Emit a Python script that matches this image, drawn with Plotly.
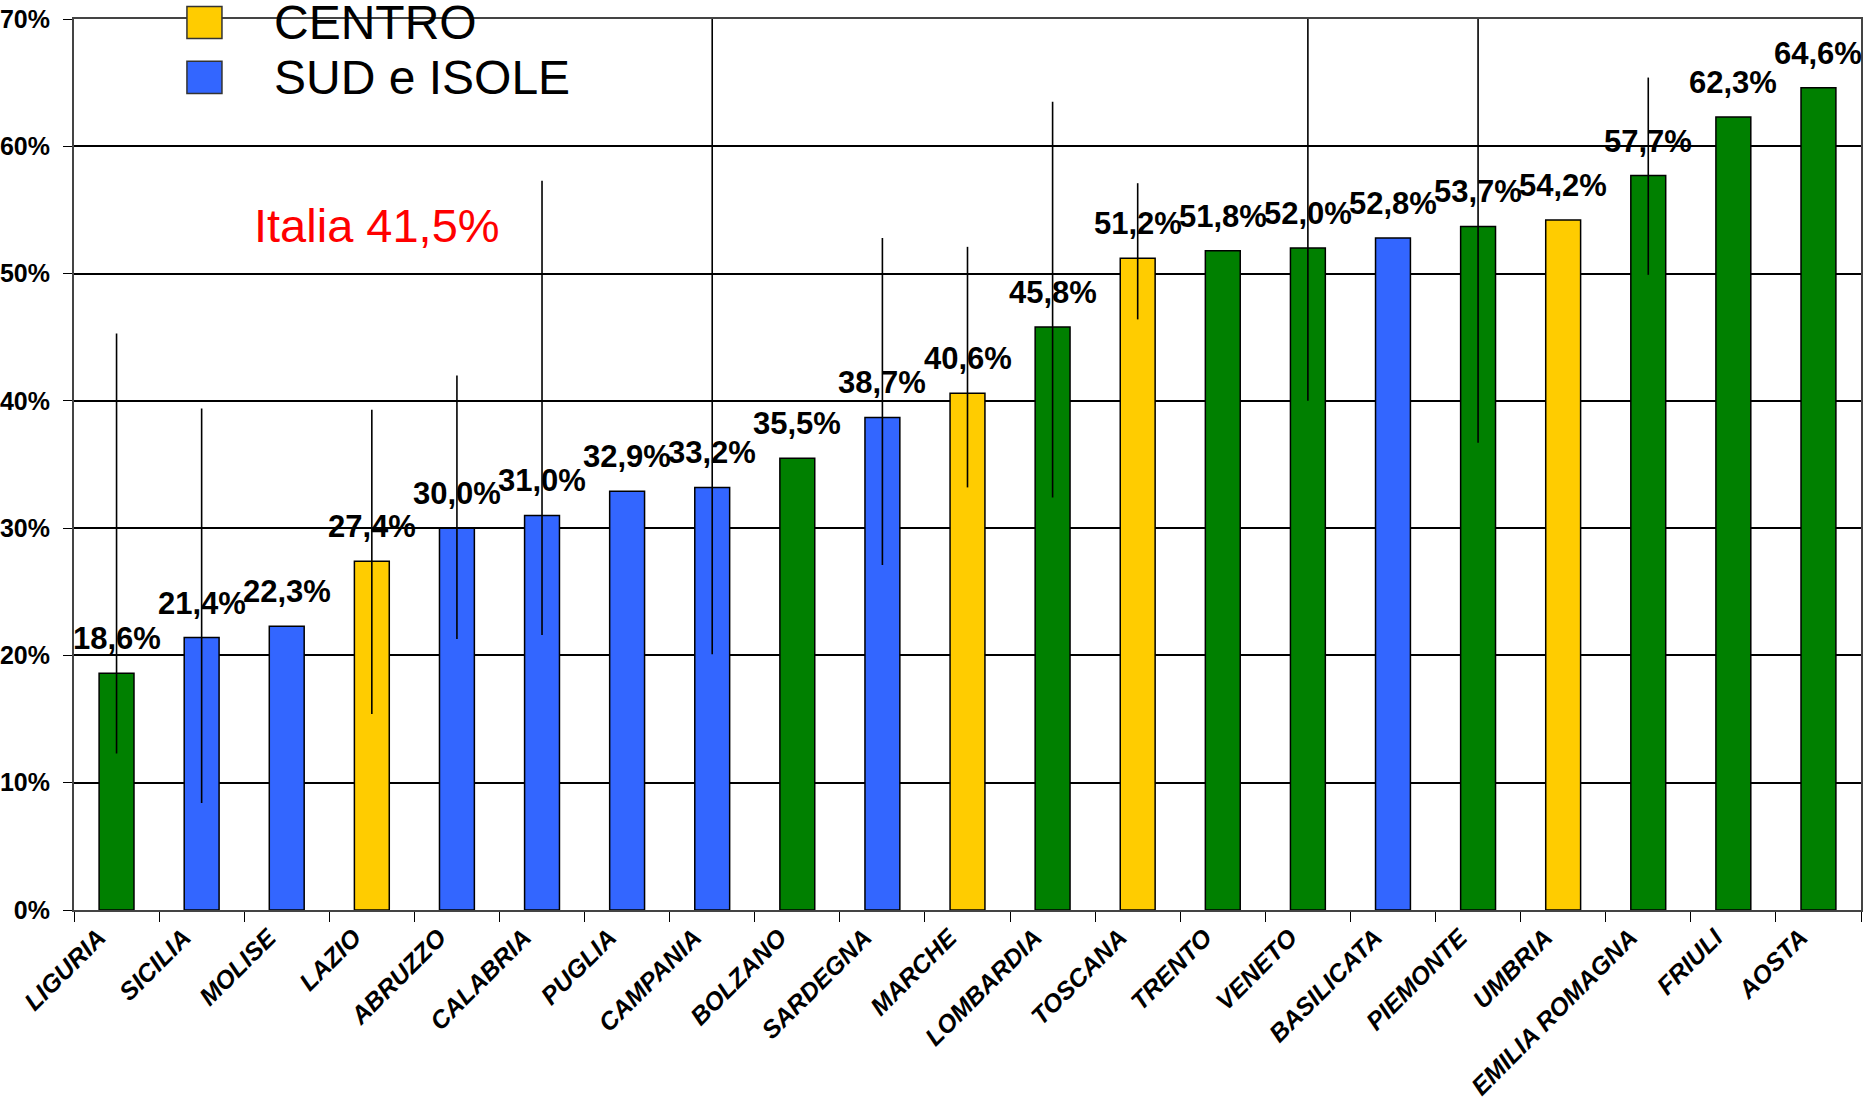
import plotly.graph_objects as go

# regions sorted by value
regions = ["LIGURIA", "SICILIA", "MOLISE", "LAZIO", "ABRUZZO", "CALABRIA", "PUGLIA",
           "CAMPANIA", "BOLZANO", "SARDEGNA", "MARCHE", "LOMBARDIA", "TOSCANA", "TRENTO",
           "VENETO", "BASILICATA", "PIEMONTE", "UMBRIA", "EMILIA ROMAGNA", "FRIULI", "AOSTA"]
values = [18.6, 21.4, 22.3, 27.4, 30.0, 31.0, 32.9, 33.2, 35.5, 38.7, 40.6, 45.8,
          51.2, 51.8, 52.0, 52.8, 53.7, 54.2, 57.7, 62.3, 64.6]
area = ["NORD", "SUD", "SUD", "CENTRO", "SUD", "SUD", "SUD", "SUD", "NORD", "SUD",
        "CENTRO", "NORD", "CENTRO", "NORD", "NORD", "SUD", "NORD", "CENTRO", "NORD",
        "NORD", "NORD"]
# interval ends (None = no interval shown)
ci_low = [12.3, 8.4, None, 15.4, 21.3, 21.6, None, 20.1, None, 27.1, 33.2, 32.4,
          46.4, None, 40.0, None, 36.7, None, 49.9, None, None]
ci_high = [45.3, 39.4, None, 39.3, 42.0, 57.3, None, 70.4, None, 52.8, 52.1, 63.5,
           57.1, None, 70.4, None, 70.4, None, 65.4, None, None]

legend_items = ["CENTRO", "SUD e ISOLE"]
italia_text = "Italia 41,5%"

colors = {"NORD": "#008000", "CENTRO": "#FFCC00", "SUD": "#3366FF", "SUD e ISOLE": "#3366FF"}
FONT = "Arial, Liberation Sans, sans-serif"

err_plus = [(h - v) if h is not None else 0 for h, v in zip(ci_high, values)]
err_minus = [(v - l) if l is not None else 0 for l, v in zip(ci_low, values)]

fig = go.Figure()
fig.add_trace(go.Bar(
    x=regions, y=values,
    width=0.41,
    marker=dict(color=[colors[a] for a in area], line=dict(color="black", width=1.5)),
    error_y=dict(type="data", array=err_plus, arrayminus=err_minus,
                 symmetric=False, width=0, thickness=1.6, color="black"),
    cliponaxis=False,
    showlegend=False,
))

# value labels above bars
for r, v in zip(regions, values):
    fig.add_annotation(
        x=r, y=v, text=f"{v:.1f}%".replace(".", ","),
        showarrow=False, yanchor="bottom", yshift=15,
        font=dict(family=FONT, size=31, color="black", weight="bold"),
    )

# legend drawn by hand (the NORD row sits above the page in the source)
row_h = 0.0615
for i, name in enumerate(legend_items):
    yc = 0.996 - i * row_h
    fig.add_shape(type="rect", xref="paper", yref="paper",
                  x0=0.0632, x1=0.0828, y0=yc - 0.018, y1=yc + 0.018,
                  fillcolor=colors[name], line=dict(color="#333", width=1.5))
    fig.add_annotation(xref="paper", yref="paper", x=0.111, y=yc, text=name,
                       showarrow=False, xanchor="left", yanchor="middle",
                       font=dict(family=FONT, size=48, color="black"))

fig.add_annotation(xref="paper", yref="paper", x=0.0996, y=0.7677, text=italia_text,
                   showarrow=False, xanchor="left", yanchor="middle",
                   font=dict(family=FONT, size=47, color="red"))

fig.update_layout(
    width=1864, height=1101,
    margin=dict(l=74, r=3, t=19, b=191),
    paper_bgcolor="white", plot_bgcolor="white",
)
fig.update_xaxes(
    type="category", range=[-0.5, 20.5], automargin=False,
    tickangle=-45, tickson="boundaries", ticks="outside", ticklen=10, tickcolor="black",
    ticklabelshift=-18, ticklabelstandoff=1, ticklabeloverflow="allow",
    tickfont=dict(family=FONT, size=25, color="black", weight="bold", style="italic"),
    showline=True, linecolor="#444", linewidth=2, mirror=True, showgrid=False,
)
fig.update_yaxes(
    range=[0, 70], dtick=10, ticksuffix="%", automargin=False,
    ticks="outside", ticklen=9, tickcolor="black", ticklabelstandoff=8,
    ticklabeloverflow="allow",
    tickfont=dict(family=FONT, size=25, color="black", weight="bold"),
    showgrid=True, gridcolor="black", gridwidth=1.5,
    showline=True, linecolor="#444", linewidth=2, mirror=True, zeroline=False,
)

# page body margin off so the figure fills the window
fig.write_html("out.html", config={"displayModeBar": False},
               post_script="document.body.style.margin='0';")
